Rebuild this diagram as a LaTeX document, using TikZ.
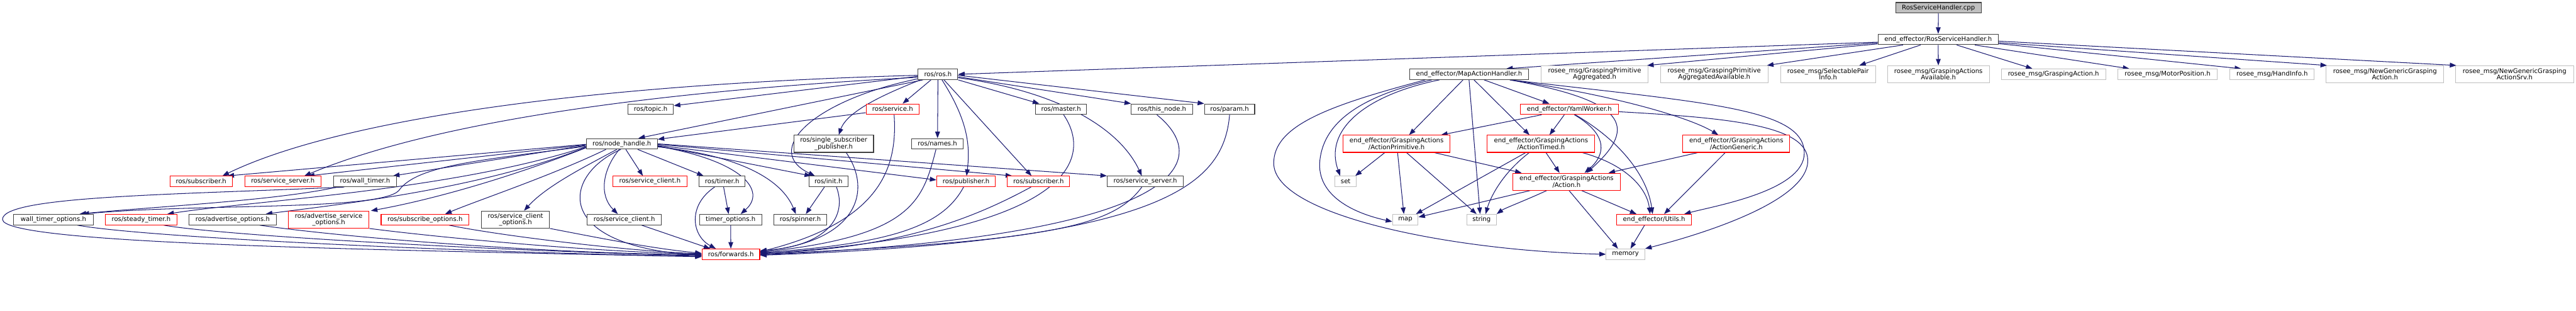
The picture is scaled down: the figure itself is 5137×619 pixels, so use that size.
\documentclass[tikz,border=0pt]{standalone}
\usepackage{fontspec}
\setmainfont{DejaVu Sans}
\usetikzlibrary{arrows.meta,backgrounds}
\definecolor{edgec}{HTML}{191970}
\definecolor{dk}{HTML}{404040}
\definecolor{lg}{HTML}{BFBFBF}
\definecolor{rd}{HTML}{FF0000}
\begin{document}
\begin{tikzpicture}[x=1pt,y=-1pt,
  every node/.style={font=\fontsize{12.7}{13}\selectfont, inner sep=0pt, align=center, rectangle, fill=white, line width=1.3pt, minimum height=21pt},
  bk/.style={draw=dk, minimum width=#1pt},
  rdb/.style={draw=rd, minimum width=#1pt},
  gr/.style={draw=lg, minimum width=#1pt},
  root/.style={draw=dk, fill=lg, minimum width=#1pt},
  h2/.style={minimum height=34pt},
  e/.style={draw=edgec, line width=1.3pt, -{Triangle[length=13pt,width=9.5pt]}}]
\useasboundingbox (0,0) rectangle (5137,619);
% row 0-1
\node[root=171] (cpp) at (3865.5,15.5) {RosServiceHandler.cpp};
\node[bk=240] (rsh) at (3865,78.5) {end\_effector/RosServiceHandler.h};
% row 2
\node[bk=79] (ros) at (1870.5,148) {ros/ros.h};
\node[bk=237] (mah) at (2929.5,148) {end\_effector/MapActionHandler.h};
\node[gr=214,h2] (gpa) at (3180,148) {rosee\_msg/GraspingPrimitive\\Aggregated.h};
\node[gr=215,h2] (gpaa) at (3418.5,148) {rosee\_msg/GraspingPrimitive\\AggregatedAvailable.h};
\node[gr=189,h2] (spi) at (3645.5,148) {rosee\_msg/SelectablePair\\Info.h};
\node[gr=203,h2] (gaa) at (3865.5,148) {rosee\_msg/GraspingActions\\Available.h};
\node[gr=208] (ga) at (4095,148) {rosee\_msg/GraspingAction.h};
\node[gr=199] (mp) at (4322.5,148) {rosee\_msg/MotorPosition.h};
\node[gr=168] (hi) at (4531,148) {rosee\_msg/HandInfo.h};
\node[gr=234,h2] (ngga) at (4756,148) {rosee\_msg/NewGenericGrasping\\Action.h};
\node[gr=235,h2] (nggas) at (5014.5,148) {rosee\_msg/NewGenericGrasping\\ActionSrv.h};
% row 3
\node[bk=91] (topic) at (1297.5,217.5) {ros/topic.h};
\node[rdb=106] (service) at (1780,217.5) {ros/service.h};
\node[bk=102] (master) at (2116,217.5) {ros/master.h};
\node[bk=122] (thisnode) at (2317,217.5) {ros/this\_node.h};
\node[bk=100] (param) at (2452,217.5) {ros/param.h};
\node[rdb=195] (yaml) at (3129.5,217.5) {end\_effector/YamlWorker.h};
% row 4
\node[bk=142] (nh) at (1240,286.5) {ros/node\_handle.h};
\node[bk=159,h2] (ssp) at (1662.5,286.5) {ros/single\_subscriber\\\_publisher.h};
\node[bk=103] (names) at (1869.5,286.5) {ros/names.h};
\node[rdb=214,h2] (ap) at (2785,286.5) {end\_effector/GraspingActions\\/ActionPrimitive.h};
\node[rdb=214,h2] (at) at (3073,286.5) {end\_effector/GraspingActions\\/ActionTimed.h};
\node[rdb=213,h2] (ag) at (3462.5,286.5) {end\_effector/GraspingActions\\/ActionGeneric.h};
% row 5
\node[rdb=124] (subL) at (401,361.5) {ros/subscriber.h};
\node[rdb=152] (ssL) at (564,361.5) {ros/service\_server.h};
\node[bk=126] (wt) at (728,361.5) {ros/wall\_timer.h};
\node[rdb=148] (sc) at (1296,361.5) {ros/service\_client.h};
\node[bk=92] (timer) at (1440,361.5) {ros/timer.h};
\node[bk=78] (init) at (1652,361.5) {ros/init.h};
\node[rdb=117] (pub) at (1926.5,361.5) {ros/publisher.h};
\node[rdb=124] (subR) at (2071,361.5) {ros/subscriber.h};
\node[bk=152] (ssR) at (2284,361.5) {ros/service\_server.h};
\node[gr=43] (set) at (2683.5,361.5) {set};
\node[rdb=214,h2] (act) at (3124,362) {end\_effector/GraspingActions\\/Action.h};
% row 6
\node[bk=159] (wto) at (106.5,437.5) {wall\_timer\_options.h};
\node[rdb=143] (st) at (281.5,437.5) {ros/steady\_timer.h};
\node[bk=174] (ao) at (464,437.5) {ros/advertise\_options.h};
\node[rdb=161,h2] (aso) at (655.5,437.5) {ros/advertise\_service\\\_options.h};
\node[rdb=175] (so) at (847.5,437.5) {ros/subscribe\_options.h};
\node[bk=136,h2] (sco) at (1028,437.5) {ros/service\_client\\\_options.h};
\node[bk=148] (scB) at (1245,437.5) {ros/service\_client.h};
\node[bk=124] (to) at (1457,437.5) {timer\_options.h};
\node[bk=106] (spin) at (1596,437.5) {ros/spinner.h};
\node[gr=51] (map) at (2802.5,437.5) {map};
\node[gr=59] (string) at (2954.5,437.5) {string};
\node[rdb=149] (utils) at (3298.5,437.5) {end\_effector/Utils.h};
% row 7
\node[rdb=115] (fwd) at (1457.5,506.5) {ros/forwards.h};
\node[gr=77] (memory) at (3241.5,506.5) {memory};

\begin{pgfonlayer}{background}
% top
\draw[e] (cpp) -- (rsh);
\draw[e] ([yshift=-5.5]rsh.west) -- (ros.east);
\draw[e] ([yshift=-7]rsh.west) -- ([xshift=-45]mah.north east);
\draw[e] ([yshift=-9]rsh.west) -- ([xshift=-3]gpa.north east);
\draw[e] ([xshift=-70]rsh.south) -- ([xshift=-3]gpaa.north east);
\draw[e] ([xshift=-35]rsh.south) -- ([xshift=-33]spi.north east);
\draw[e] (rsh) -- (gaa);
\draw[e] ([xshift=37]rsh.south) -- ([xshift=-42]ga.north);
\draw[e] ([xshift=73]rsh.south) -- ([xshift=24]mp.north west);
\draw[e] ([yshift=-8.5]rsh.east) -- ([xshift=23]hi.north west);
\draw[e] ([yshift=-6.5]rsh.east) -- ([xshift=2]ngga.north west);
\draw[e] ([yshift=-3.5]rsh.east) -- ([xshift=2]nggas.north west);
% ros.h
\draw[e] ([yshift=-4]ros.west) -- ([yshift=7]topic.east);
\draw[e] ([xshift=-30]ros.south) -- ([xshift=33]nh.north);
\draw[e] ([xshift=-14]ros.south) -- ([xshift=20]service.north);
\draw[e] (ros) -- (names);
\draw[e] ([xshift=8]ros.south) .. controls (1930,240) and (1935,290) .. ([xshift=1]pub.north);
\draw[e] ([xshift=12]ros.south) -- ([xshift=-14]subR.north);
\draw[e] (ros.south east) -- ([xshift=8]master.north west);
\draw[e] ([yshift=-5]ros.east) -- (thisnode.north west);
\draw[e] ([yshift=-2]ros.east) -- (param.north west);
\draw[e] ([yshift=-7]ros.east) .. controls (2100,180) and (2230,250) .. ([xshift=-7]ssR.north);
\draw[e] ([xshift=-35]ros.south) .. controls (1770,185) and (1690,220) .. ([xshift=10]ssp.north);
\draw[e] ([yshift=-9]ros.west) .. controls (1620,200) and (1520,300) .. ([xshift=-27]init.north);
\draw[e] ([yshift=-2]ros.west) .. controls (1100,170) and (650,250) .. ([xshift=-20]subL.north east);
\draw[e] ([yshift=-6]ros.west) .. controls (1150,190) and (800,270) .. ([xshift=43]ssL.north);
% into forwards from the right
\draw[e] ([yshift=-7]service.west) -- ([yshift=9]nh.east);
\draw[e] ([xshift=3]service.south) .. controls (1790,330) and (1760,440) .. ([yshift=5]fwd.east);
\draw[e] ([xshift=-3]names.south) .. controls (1840,400) and (1820,470) .. ([yshift=4]fwd.east);
\draw[e] ([xshift=-5]pub.south) .. controls (1880,450) and (1780,485) .. ([yshift=3]fwd.east);
\draw[e] ([xshift=-15]subR.south) .. controls (1950,430) and (1800,495) .. ([yshift=2]fwd.east);
\draw[e] ([xshift=5]master.south) .. controls (2170,300) and (2180,460) .. ([yshift=1]fwd.east);
\draw[e] ([xshift=-7]ssR.south) .. controls (2220,450) and (2100,480) .. (fwd.east);
\draw[e] ([xshift=-10]thisnode.south) .. controls (2420,320) and (2370,470) .. ([yshift=-1]fwd.east);
\draw[e] (param.south) .. controls (2440,370) and (2320,480) .. ([yshift=-2]fwd.east);
\draw[e] ([xshift=25]ssp.south) .. controls (1740,380) and (1710,480) .. ([yshift=6]fwd.east);
\draw[e] ([xshift=16]init.south) .. controls (1690,430) and (1650,490) .. ([yshift=7]fwd.east);
% node_handle
\draw[e] ([yshift=-1]nh.west) -- ([xshift=-10]subL.north east);
\draw[e] ([yshift=-2]nh.west) -- ([xshift=50]ssL.north);
\draw[e] ([yshift=-3]nh.west) -- ([xshift=-8]wt.north east);
\draw[e] ([yshift=-5]nh.west) .. controls (950,320) and (830,330) .. (795,380) .. controls (755,420) and (400,405) .. ([xshift=-22]wto.north east);
\draw[e] ([yshift=-6]nh.west) .. controls (900,380) and (500,400) .. ([xshift=-20]st.north east);
\draw[e] ([yshift=-7]nh.west) .. controls (950,380) and (650,410) .. ([xshift=66]ao.north);
\draw[e] ([yshift=-8]nh.west) .. controls (1000,360) and (850,400) .. ([xshift=3]aso.north east);
\draw[e] ([xshift=40]nh.south west) .. controls (1100,350) and (950,400) .. ([xshift=-48]so.north east);
\draw[e] ([xshift=-10]nh.south) .. controls (1170,330) and (1090,370) .. ([xshift=17]sco.north);
\draw[e] ([xshift=-5]nh.south) .. controls (1200,340) and (1195,390) .. ([xshift=-13]scB.north);
\draw[e] ([xshift=8]nh.south) -- ([xshift=-14]sc.north);
\draw[e] ([xshift=-2]nh.south) .. controls (1120,350) and (1100,490) .. ([yshift=-2]fwd.west);
\draw[e] ([xshift=-40]nh.south east) -- ([xshift=-37]timer.north);
\draw[e] ([yshift=-5]nh.east) .. controls (1480,320) and (1530,380) .. ([xshift=20]to.north);
\draw[e] ([yshift=-6]nh.east) .. controls (1480,310) and (1560,360) .. ([xshift=-9]spin.north);
\draw[e] ([yshift=-4]nh.east) -- ([xshift=5]init.north west);
\draw[e] ([yshift=-3]nh.east) -- ([yshift=3]pub.west);
\draw[e] ([yshift=-1]nh.east) -- ([xshift=10]subR.north west);
\draw[e] (nh.east) -- (ssR.north west);
\draw[e] ([xshift=3]timer.south) -- ([xshift=-4]to.north);
\draw[e] ([xshift=-15]timer.south) .. controls (1370,410) and (1380,470) .. ([xshift=-30]fwd.north);
\draw[e] (to) -- (fwd);
\draw[e] ([xshift=-8]init.south) -- ([xshift=11]spin.north);
% into forwards from the left
\draw[e] ([xshift=48]wto.south) .. controls (300,475) and (1000,505) .. ([yshift=-4]fwd.west);
\draw[e] ([xshift=45]st.south) .. controls (450,470) and (1000,500) .. ([yshift=-3]fwd.west);
\draw[e] ([xshift=54]ao.south) .. controls (700,475) and (1100,505) .. ([yshift=-1]fwd.west);
\draw[e] (aso.south east) .. controls (850,470) and (1150,500) .. (fwd.west);
\draw[e] ([xshift=-40]so.south east) .. controls (1000,470) and (1250,500) .. ([yshift=1]fwd.west);
\draw[e] (sco.south east) .. controls (1200,475) and (1300,495) .. ([yshift=2]fwd.west);
\draw[e] ([xshift=-40]scB.south east) -- ([xshift=17]fwd.north west);
\draw[e] ([xshift=22]wt.south west) .. controls (350,388) and (5,390) .. (5,437) .. controls (5,485) and (700,497) .. ([yshift=-5]fwd.west);
\draw[e] ([xshift=8]wt.south west) .. controls (550,400) and (300,412) .. ([xshift=-28]wto.north east);
% MapActionHandler
\draw[e] ([xshift=-12]mah.south) -- ([xshift=25]ap.north);
\draw[e] (mah.south) -- ([xshift=-3]string.north);
\draw[e] ([xshift=10]mah.south) -- ([xshift=-23]at.north);
\draw[e] ([xshift=30]mah.south) -- ([xshift=-40]yaml.north);
\draw[e] ([xshift=-38]mah.south east) .. controls (3240,200) and (3270,250) .. ([xshift=40]act.north);
\draw[e] ([xshift=-37]mah.south east) .. controls (3250,195) and (3380,240) .. ([xshift=-36]ag.north);
\draw[e] ([xshift=-36]mah.south east) .. controls (3400,205) and (3598,215) .. (3598,305) .. controls (3598,380) and (3420,410) .. ([xshift=-15]utils.north east);
\draw[e] ([xshift=60]mah.south west) .. controls (2720,190) and (2640,260) .. ([xshift=-11]set.north);
\draw[e] ([xshift=45]mah.south west) .. controls (2720,190) and (2640,240) .. (2632,320) .. controls (2625,390) and (2700,425) .. ([yshift=-4]map.west);
\draw[e] ([xshift=32]mah.south west) .. controls (2650,210) and (2540,250) .. (2540,325) .. controls (2540,430) and (2900,500) .. (memory.west);
% YamlWorker
\draw[e] ([xshift=43]yaml.south west) -- ([xshift=-19]ap.north east);
\draw[e] ([xshift=-10]yaml.south) -- ([xshift=17]at.north);
\draw[e] ([xshift=10]yaml.south) .. controls (3210,270) and (3200,310) .. ([xshift=36]act.north);
\draw[e] ([xshift=12]yaml.south) .. controls (3230,280) and (3285,350) .. ([xshift=-3]utils.north);
\draw[e] ([yshift=-5]yaml.east) .. controls (3450,235) and (3605,250) .. (3605,320) .. controls (3605,400) and (3400,465) .. (memory.north east);
% ActionPrimitive
\draw[e] ([xshift=84]ap.south west) -- ([xshift=-3]set.north east);
\draw[e] ([xshift=2]ap.south) -- ([xshift=-3]map.north);
\draw[e] ([xshift=20]ap.south) -- ([xshift=-10]string.north);
\draw[e] ([xshift=-32]ap.south east) -- ([xshift=18]act.north west);
% ActionTimed
\draw[e] ([xshift=77]at.south west) -- ([xshift=-5]map.north east);
\draw[e] ([xshift=84]at.south west) .. controls (2990,350) and (2970,400) .. ([xshift=8]string.north);
\draw[e] ([xshift=10]at.south) -- ([xshift=-14]act.north);
\draw[e] ([xshift=-25]at.south east) .. controls (3250,330) and (3285,380) .. ([xshift=-8]utils.north);
% ActionGeneric
\draw[e] ([xshift=30]ag.south west) -- ([xshift=-24]act.north east);
\draw[e] ([xshift=85]ag.south west) -- ([xshift=20]utils.north);
% Action
\draw[e] ([xshift=35]act.south west) -- ([yshift=5]map.east);
\draw[e] ([xshift=68]act.south west) .. controls (3040,400) and (3000,415) .. (string.north east);
\draw[e] ([xshift=30]act.south) -- ([xshift=40]utils.north west);
\draw[e] ([xshift=5]act.south) -- ([xshift=-15]memory.north);
\draw[e] ([xshift=-19]utils.south) -- ([xshift=10]memory.north);
\end{pgfonlayer}
\end{tikzpicture}
\end{document}
